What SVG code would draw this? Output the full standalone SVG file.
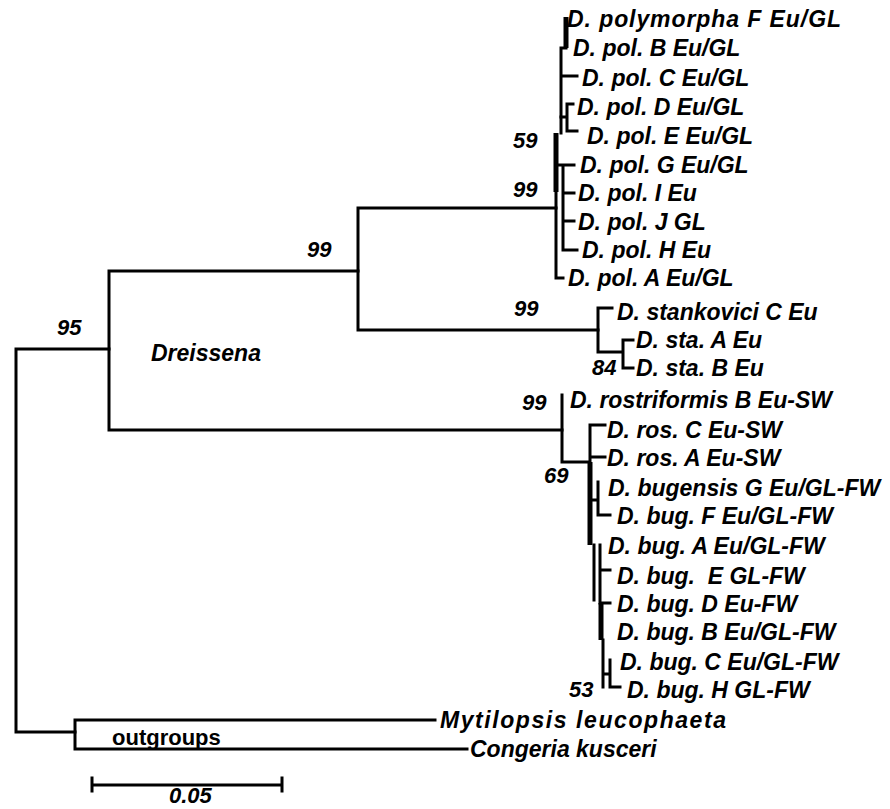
<svg xmlns="http://www.w3.org/2000/svg" width="890" height="809" viewBox="0 0 890 809">
<style>
  .br { fill: none; stroke: #000; stroke-width: 3; stroke-linecap: square; }
  .thk { fill: none; stroke: #000; stroke-width: 5; }
  .lb { font-family: "Liberation Sans", Arial, sans-serif; font-weight: bold; font-style: italic; font-size: 23px; fill: #000; white-space: pre; }
  .num { font-family: "Liberation Sans", Arial, sans-serif; font-weight: bold; font-style: italic; font-size: 22px; fill: #000; }
  .up { font-family: "Liberation Sans", Arial, sans-serif; font-weight: bold; font-size: 22px; fill: #000; }
</style>
<rect width="890" height="809" fill="#fff"/>
<g id="connectors">
  <path class="br" d="M16,349 V732 M16,349 H109 M16,732 H75"/>
  <path class="br" d="M109,271 V430 M109,271 H358 M109,430 H562"/>
  <path class="br" d="M358,208 V330 M358,208 H556 M358,330 H598"/>
  <path class="thk" d="M566,17 V48"/>
  <path class="br" d="M561,48 V133 M561,48 H566 M561,76 H577"/>
  <path class="br" d="M567,104 V131 M567,104 H573 M567,131 H577 M561,117 H567"/>
  <path class="thk" d="M556,133 V192"/>
  <path class="br" d="M556,192 V278 M556,278 H563"/>
  <path class="br" d="M563,165 V250 M556,165 H574 M563,193 H574 M563,221 H574 M563,250 H577"/>
  <path class="br" d="M598,308 V352 M598,308 H612 M598,352 H623 M623,340 V368 M623,340 H633 M623,368 H633"/>
  <path class="br" d="M562,395 V462 M562,462 H590 M590,425 V462 M590,425 H605 M590,457 H605"/>
  <path class="thk" d="M590,462 V545"/>
  <path class="br" d="M590,500 H598 M598,482 V515 M598,515 H610"/>
  <path class="br" d="M594,545 V600 M600,545 V603 M600,570 H610 M600,603 H610"/>
  <path class="thk" d="M601,603 V640"/>
  <path class="br" d="M603,640 V687 M603,674 H610 M610,660 V687 M610,687 H620"/>
  <path class="br" d="M75,720 V749 M75,720 H435 M75,749 H467"/>
  <path class="br" d="M92,785 H282 M92,778 V791 M282,778 V791"/>
</g>
<g id="taxa">
  <text class="lb" x="567" y="27" textLength="274" lengthAdjust="spacing">D. polymorpha F Eu/GL</text>
  <text class="lb" x="573" y="56">D. pol. B Eu/GL</text>
  <text class="lb" x="582" y="86">D. pol. C Eu/GL</text>
  <text class="lb" x="577" y="115">D. pol. D Eu/GL</text>
  <text class="lb" x="587" y="144">D. pol. E Eu/GL</text>
  <text class="lb" x="580" y="173">D. pol. G Eu/GL</text>
  <text class="lb" x="578" y="201">D. pol. I Eu</text>
  <text class="lb" x="578" y="230">D. pol. J GL</text>
  <text class="lb" x="582" y="258">D. pol. H Eu</text>
  <text class="lb" x="568" y="286">D. pol. A Eu/GL</text>
  <text class="lb" x="617" y="320">D. stankovici C Eu</text>
  <text class="lb" x="636" y="348">D. sta. A Eu</text>
  <text class="lb" x="636" y="376">D. sta. B Eu</text>
  <text class="lb" x="570" y="408">D. rostriformis B Eu-SW</text>
  <text class="lb" x="607" y="438">D. ros. C Eu-SW</text>
  <text class="lb" x="607" y="466">D. ros. A Eu-SW</text>
  <text class="lb" x="608" y="496">D. bugensis G Eu/GL-FW</text>
  <text class="lb" x="617" y="524">D. bug. F Eu/GL-FW</text>
  <text class="lb" x="608" y="554">D. bug. A Eu/GL-FW</text>
  <text class="lb" x="617" y="584">D. bug.  E GL-FW</text>
  <text class="lb" x="617" y="612">D. bug. D Eu-FW</text>
  <text class="lb" x="617" y="640">D. bug. B Eu/GL-FW</text>
  <text class="lb" x="620" y="670">D. bug. C Eu/GL-FW</text>
  <text class="lb" x="627" y="698">D. bug. H GL-FW</text>
  <text class="lb" x="440" y="728" textLength="286" lengthAdjust="spacing">Mytilopsis leucophaeta</text>
  <text class="lb" x="470" y="757">Congeria kusceri</text>
</g>
<g id="support">
  <text class="num" x="57" y="335">95</text>
  <text class="num" x="307" y="257">99</text>
  <text class="num" x="513" y="148">59</text>
  <text class="num" x="513" y="197">99</text>
  <text class="num" x="514" y="316">99</text>
  <text class="num" x="592" y="375">84</text>
  <text class="num" x="522" y="410">99</text>
  <text class="num" x="544" y="483">69</text>
  <text class="num" x="569" y="697">53</text>
</g>
<g id="clade-labels">
  <text class="lb" x="151" y="361">Dreissena</text>
  <text class="up" x="112" y="745">outgroups</text>
  <text class="num" x="169" y="803">0.05</text>
</g>
</svg>
